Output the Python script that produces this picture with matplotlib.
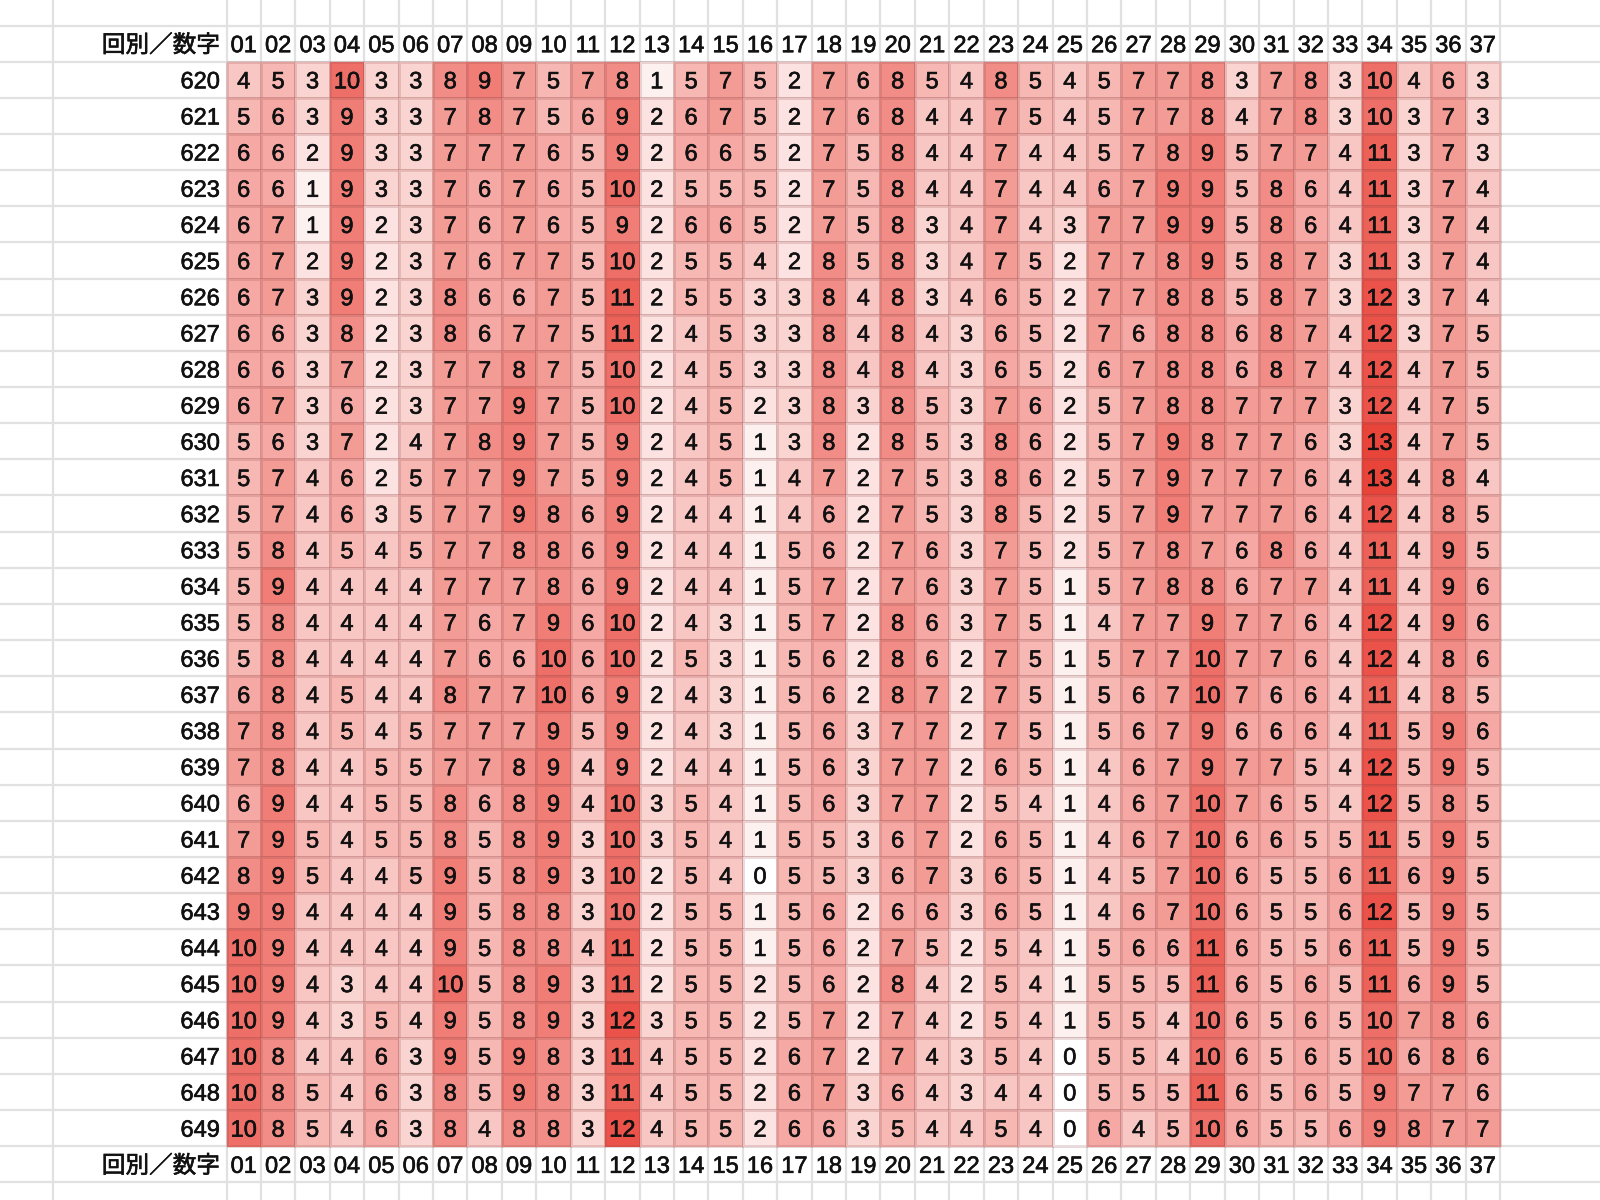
import numpy as np
import matplotlib
matplotlib.use("Agg")
import matplotlib.pyplot as plt
from matplotlib.colors import LinearSegmentedColormap
from matplotlib import font_manager
import matplotlib.patheffects as pe

# ---------------- data ----------------
draws = list(range(620, 650))
numbers = [f"{n:02d}" for n in range(1, 38)]
corner_label = "回別／数字"

counts = [
    [4, 5, 3, 10, 3, 3, 8, 9, 7, 5, 7, 8, 1, 5, 7, 5, 2, 7, 6, 8, 5, 4, 8, 5, 4, 5, 7, 7, 8, 3, 7, 8, 3, 10, 4, 6, 3],
    [5, 6, 3, 9, 3, 3, 7, 8, 7, 5, 6, 9, 2, 6, 7, 5, 2, 7, 6, 8, 4, 4, 7, 5, 4, 5, 7, 7, 8, 4, 7, 8, 3, 10, 3, 7, 3],
    [6, 6, 2, 9, 3, 3, 7, 7, 7, 6, 5, 9, 2, 6, 6, 5, 2, 7, 5, 8, 4, 4, 7, 4, 4, 5, 7, 8, 9, 5, 7, 7, 4, 11, 3, 7, 3],
    [6, 6, 1, 9, 3, 3, 7, 6, 7, 6, 5, 10, 2, 5, 5, 5, 2, 7, 5, 8, 4, 4, 7, 4, 4, 6, 7, 9, 9, 5, 8, 6, 4, 11, 3, 7, 4],
    [6, 7, 1, 9, 2, 3, 7, 6, 7, 6, 5, 9, 2, 6, 6, 5, 2, 7, 5, 8, 3, 4, 7, 4, 3, 7, 7, 9, 9, 5, 8, 6, 4, 11, 3, 7, 4],
    [6, 7, 2, 9, 2, 3, 7, 6, 7, 7, 5, 10, 2, 5, 5, 4, 2, 8, 5, 8, 3, 4, 7, 5, 2, 7, 7, 8, 9, 5, 8, 7, 3, 11, 3, 7, 4],
    [6, 7, 3, 9, 2, 3, 8, 6, 6, 7, 5, 11, 2, 5, 5, 3, 3, 8, 4, 8, 3, 4, 6, 5, 2, 7, 7, 8, 8, 5, 8, 7, 3, 12, 3, 7, 4],
    [6, 6, 3, 8, 2, 3, 8, 6, 7, 7, 5, 11, 2, 4, 5, 3, 3, 8, 4, 8, 4, 3, 6, 5, 2, 7, 6, 8, 8, 6, 8, 7, 4, 12, 3, 7, 5],
    [6, 6, 3, 7, 2, 3, 7, 7, 8, 7, 5, 10, 2, 4, 5, 3, 3, 8, 4, 8, 4, 3, 6, 5, 2, 6, 7, 8, 8, 6, 8, 7, 4, 12, 4, 7, 5],
    [6, 7, 3, 6, 2, 3, 7, 7, 9, 7, 5, 10, 2, 4, 5, 2, 3, 8, 3, 8, 5, 3, 7, 6, 2, 5, 7, 8, 8, 7, 7, 7, 3, 12, 4, 7, 5],
    [5, 6, 3, 7, 2, 4, 7, 8, 9, 7, 5, 9, 2, 4, 5, 1, 3, 8, 2, 8, 5, 3, 8, 6, 2, 5, 7, 9, 8, 7, 7, 6, 3, 13, 4, 7, 5],
    [5, 7, 4, 6, 2, 5, 7, 7, 9, 7, 5, 9, 2, 4, 5, 1, 4, 7, 2, 7, 5, 3, 8, 6, 2, 5, 7, 9, 7, 7, 7, 6, 4, 13, 4, 8, 4],
    [5, 7, 4, 6, 3, 5, 7, 7, 9, 8, 6, 9, 2, 4, 4, 1, 4, 6, 2, 7, 5, 3, 8, 5, 2, 5, 7, 9, 7, 7, 7, 6, 4, 12, 4, 8, 5],
    [5, 8, 4, 5, 4, 5, 7, 7, 8, 8, 6, 9, 2, 4, 4, 1, 5, 6, 2, 7, 6, 3, 7, 5, 2, 5, 7, 8, 7, 6, 8, 6, 4, 11, 4, 9, 5],
    [5, 9, 4, 4, 4, 4, 7, 7, 7, 8, 6, 9, 2, 4, 4, 1, 5, 7, 2, 7, 6, 3, 7, 5, 1, 5, 7, 8, 8, 6, 7, 7, 4, 11, 4, 9, 6],
    [5, 8, 4, 4, 4, 4, 7, 6, 7, 9, 6, 10, 2, 4, 3, 1, 5, 7, 2, 8, 6, 3, 7, 5, 1, 4, 7, 7, 9, 7, 7, 6, 4, 12, 4, 9, 6],
    [5, 8, 4, 4, 4, 4, 7, 6, 6, 10, 6, 10, 2, 5, 3, 1, 5, 6, 2, 8, 6, 2, 7, 5, 1, 5, 7, 7, 10, 7, 7, 6, 4, 12, 4, 8, 6],
    [6, 8, 4, 5, 4, 4, 8, 7, 7, 10, 6, 9, 2, 4, 3, 1, 5, 6, 2, 8, 7, 2, 7, 5, 1, 5, 6, 7, 10, 7, 6, 6, 4, 11, 4, 8, 5],
    [7, 8, 4, 5, 4, 5, 7, 7, 7, 9, 5, 9, 2, 4, 3, 1, 5, 6, 3, 7, 7, 2, 7, 5, 1, 5, 6, 7, 9, 6, 6, 6, 4, 11, 5, 9, 6],
    [7, 8, 4, 4, 5, 5, 7, 7, 8, 9, 4, 9, 2, 4, 4, 1, 5, 6, 3, 7, 7, 2, 6, 5, 1, 4, 6, 7, 9, 7, 7, 5, 4, 12, 5, 9, 5],
    [6, 9, 4, 4, 5, 5, 8, 6, 8, 9, 4, 10, 3, 5, 4, 1, 5, 6, 3, 7, 7, 2, 5, 4, 1, 4, 6, 7, 10, 7, 6, 5, 4, 12, 5, 8, 5],
    [7, 9, 5, 4, 5, 5, 8, 5, 8, 9, 3, 10, 3, 5, 4, 1, 5, 5, 3, 6, 7, 2, 6, 5, 1, 4, 6, 7, 10, 6, 6, 5, 5, 11, 5, 9, 5],
    [8, 9, 5, 4, 4, 5, 9, 5, 8, 9, 3, 10, 2, 5, 4, 0, 5, 5, 3, 6, 7, 3, 6, 5, 1, 4, 5, 7, 10, 6, 5, 5, 6, 11, 6, 9, 5],
    [9, 9, 4, 4, 4, 4, 9, 5, 8, 8, 3, 10, 2, 5, 5, 1, 5, 6, 2, 6, 6, 3, 6, 5, 1, 4, 6, 7, 10, 6, 5, 5, 6, 12, 5, 9, 5],
    [10, 9, 4, 4, 4, 4, 9, 5, 8, 8, 4, 11, 2, 5, 5, 1, 5, 6, 2, 7, 5, 2, 5, 4, 1, 5, 6, 6, 11, 6, 5, 5, 6, 11, 5, 9, 5],
    [10, 9, 4, 3, 4, 4, 10, 5, 8, 9, 3, 11, 2, 5, 5, 2, 5, 6, 2, 8, 4, 2, 5, 4, 1, 5, 5, 5, 11, 6, 5, 6, 5, 11, 6, 9, 5],
    [10, 9, 4, 3, 5, 4, 9, 5, 8, 9, 3, 12, 3, 5, 5, 2, 5, 7, 2, 7, 4, 2, 5, 4, 1, 5, 5, 4, 10, 6, 5, 6, 5, 10, 7, 8, 6],
    [10, 8, 4, 4, 6, 3, 9, 5, 9, 8, 3, 11, 4, 5, 5, 2, 6, 7, 2, 7, 4, 3, 5, 4, 0, 5, 5, 4, 10, 6, 5, 6, 5, 10, 6, 8, 6],
    [10, 8, 5, 4, 6, 3, 8, 5, 9, 8, 3, 11, 4, 5, 5, 2, 6, 7, 3, 6, 4, 3, 4, 4, 0, 5, 5, 5, 11, 6, 5, 6, 5, 9, 7, 7, 6],
    [10, 8, 5, 4, 6, 3, 8, 4, 8, 8, 3, 12, 4, 5, 5, 2, 6, 6, 3, 5, 4, 4, 5, 4, 0, 6, 4, 5, 10, 6, 5, 5, 6, 9, 8, 7, 7],
]

# ---------------- fonts ----------------
available = {f.name for f in font_manager.fontManager.ttflist}
num_family = "Liberation Sans Narrow" if "Liberation Sans Narrow" in available else "Liberation Sans"
text_family = [num_family, "Noto Sans CJK JP", "DejaVu Sans"]
plt.rcParams["font.family"] = text_family

# ---------------- layout (pixels) ----------------
W, H = 1600, 1200
fig = plt.figure(figsize=(16, 12), dpi=100)
ax = fig.add_axes([0, 0, 1, 1])
ax.set_xlim(0, W)
ax.set_ylim(H, 0)
ax.axis("off")

col_w = 34.42
x0 = 226.5
row_h = 36.15
y0 = 25.5          # top of header row
label_left = 52.7
label_right = 220.0
text_dy = 2.6      # baseline nudge (spreadsheet text sits slightly low)

nrows, ncols = len(draws), len(numbers)
x_edges = x0 + col_w * np.arange(ncols + 1)
y_data0 = y0 + row_h
y_edges = y_data0 + row_h * np.arange(nrows + 1)

# spreadsheet gridlines
grid_y = y0 + row_h * np.arange(-1, nrows + 4)
ax.hlines(grid_y, 0, W, color="#e1e1e1", lw=1.6, zorder=0)
ax.vlines(np.r_[label_left, x_edges], -10, H + 10, color="#e1e1e1", lw=1.6, zorder=0)

# heatmap cells
Z = np.array(counts)
cmap = LinearSegmentedColormap.from_list("white_red", ["#ffffff", "#e9443a"])
ax.pcolormesh(x_edges, y_edges, Z, cmap=cmap, vmin=Z.min(), vmax=Z.max(),
              edgecolors=(0.55, 0.25, 0.25, 0.18), linewidth=0.9, zorder=1)

fs = 17
txt_color = "#111111"
effects = [pe.withStroke(linewidth=0.45, foreground=txt_color)]
xc = (x_edges[:-1] + x_edges[1:]) / 2
yc = (y_edges[:-1] + y_edges[1:]) / 2 + text_dy

def put(x, y, s, ha):
    ax.text(x, y, s, ha=ha, va="center", fontsize=fs, color=txt_color,
            zorder=3, path_effects=effects)

for i in range(nrows):
    put(label_right, yc[i], str(draws[i]), "right")
    for j in range(ncols):
        put(xc[j], yc[i], str(Z[i, j]), "center")

for yh in (y0 + row_h / 2 + text_dy, y_edges[-1] + row_h / 2 + text_dy):
    put(label_right, yh, corner_label, "right")
    for j in range(ncols):
        put(xc[j], yh, numbers[j], "center")

fig.savefig("out.png", dpi=100, facecolor="white")
